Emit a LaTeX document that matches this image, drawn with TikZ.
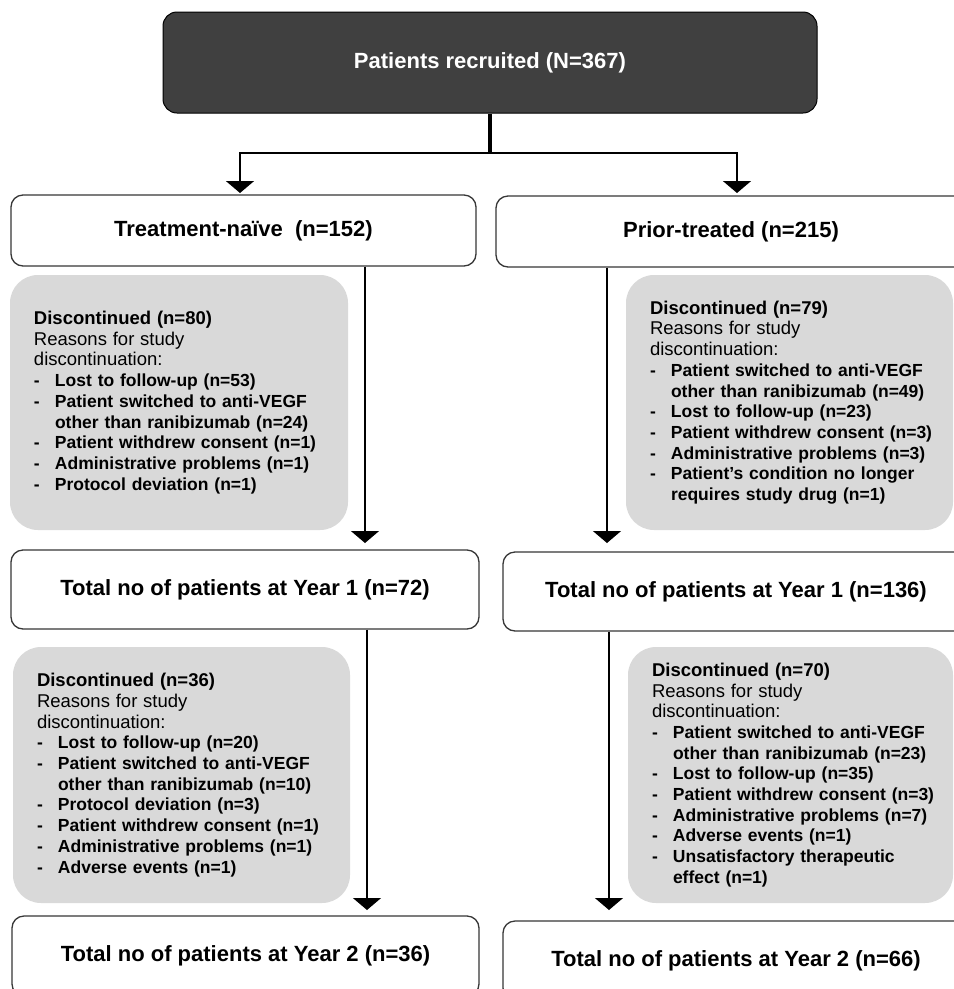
\documentclass[tikz,border=0pt]{standalone}
\usepackage{fontspec}
\setmainfont{Liberation Sans}
\usetikzlibrary{arrows.meta}
\definecolor{topgrey}{RGB}{64,64,64}
\definecolor{boxgrey}{RGB}{217,217,217}
\definecolor{edgegrey}{RGB}{55,55,55}
\newcommand\hdr[1]{\mbox{\fontsize{18.5}{20.7}\selectfont\bfseries #1}}
\newcommand\rsn[1]{\mbox{\fontsize{18.5}{20.7}\selectfont #1}}
\newcommand\itm[1]{\makebox[21pt][l]{\bfseries -}\mbox{\bfseries #1}}
\newcommand\cnt[1]{\hspace*{21pt}\mbox{\bfseries #1}}
\begin{document}
\begin{tikzpicture}[x=1pt,y=-1pt,
  topbox/.style={draw=black, line width=1pt, fill=topgrey, rounded corners=14pt, text=white,
    font=\bfseries\fontsize{22}{26}\selectfont},
  whitebox/.style={draw=edgegrey, line width=1.3pt, fill=white, rounded corners=12pt,
    font=\bfseries\fontsize{22}{26}\selectfont},
  greybox/.style={fill=boxgrey, draw=none, rounded corners=28pt, align=left, inner xsep=24pt,
    font=\fontsize{17.5}{20.7}\selectfont},
  arr/.style={draw=black, line width=1.2pt, -{Triangle[width=28pt,length=12pt]}},
]
\useasboundingbox (0,0) rectangle (954,989);
\clip (0,0) rectangle (954,989);
\fill[white] (0,0) rectangle (954,989);

% top
\node[topbox, minimum width=654pt, minimum height=101pt] (top) at (490,62.5) {Patients recruited (N=367)};

% level 1
\node[whitebox, minimum width=465pt, minimum height=71pt] (naive) at (243.5,230.5) {Treatment-naïve\ \ (n=152)};
\node[whitebox, minimum width=470pt, minimum height=71pt] (prior) at (731,231.5) {Prior-treated (n=215)};

% grey boxes level 1
\node[greybox, minimum width=338pt, minimum height=255pt, text width=290pt] (d1l) at (179,402.5) {%
\hdr{Discontinued (n=80)}\\
\rsn{Reasons for study}\\
\rsn{discontinuation:}\\
\itm{Lost to follow-up (n=53)}\\
\itm{Patient switched to anti-VEGF}\\
\cnt{other than ranibizumab (n=24)}\\
\itm{Patient withdrew consent (n=1)}\\
\itm{Administrative problems (n=1)}\\
\itm{Protocol deviation (n=1)}};

\node[greybox, minimum width=327pt, minimum height=255pt, text width=279pt] (d1r) at (789.5,402.5) {%
\hdr{Discontinued (n=79)}\\
\rsn{Reasons for study}\\
\rsn{discontinuation:}\\
\itm{Patient switched to anti-VEGF}\\
\cnt{other than ranibizumab (n=49)}\\
\itm{Lost to follow-up (n=23)}\\
\itm{Patient withdrew consent (n=3)}\\
\itm{Administrative problems (n=3)}\\
\itm{Patient’s condition no longer}\\
\cnt{requires study drug (n=1)}};

% year 1
\node[whitebox, minimum width=468pt, minimum height=79pt] (y1l) at (245,589.5) {Total no of patients at Year 1 (n=72)};
\node[whitebox, minimum width=466pt, minimum height=79pt] (y1r) at (736,591.5) {Total no of patients at Year 1 (n=136)};

% grey boxes level 2
\node[greybox, minimum width=337pt, minimum height=256pt, text width=289pt] (d2l) at (181.5,775) {%
\hdr{Discontinued (n=36)}\\
\rsn{Reasons for study}\\
\rsn{discontinuation:}\\
\itm{Lost to follow-up (n=20)}\\
\itm{Patient switched to anti-VEGF}\\
\cnt{other than ranibizumab (n=10)}\\
\itm{Protocol deviation (n=3)}\\
\itm{Patient withdrew consent (n=1)}\\
\itm{Administrative problems (n=1)}\\
\itm{Adverse events (n=1)}};

\node[greybox, minimum width=325pt, minimum height=256pt, text width=277pt] (d2r) at (790.5,775) {%
\hdr{Discontinued (n=70)}\\
\rsn{Reasons for study}\\
\rsn{discontinuation:}\\
\itm{Patient switched to anti-VEGF}\\
\cnt{other than ranibizumab (n=23)}\\
\itm{Lost to follow-up (n=35)}\\
\itm{Patient withdrew consent (n=3)}\\
\itm{Administrative problems (n=7)}\\
\itm{Adverse events (n=1)}\\
\itm{Unsatisfactory therapeutic}\\
\cnt{effect (n=1)}};

% year 2
\node[whitebox, minimum width=467pt, minimum height=80pt] (y2l) at (245.5,956) {Total no of patients at Year 2 (n=36)};
\node[whitebox, minimum width=466pt, minimum height=79pt] (y2r) at (736,960.5) {Total no of patients at Year 2 (n=66)};

% connectors
\coordinate (split) at (490,153);
\coordinate (tl) at (240,193);
\coordinate (tr) at (737,193);
\draw[line width=3.5pt] (top.south) -- (split);
\draw[arr, line width=1.6pt] (split) -| (tl);
\draw[arr, line width=1.6pt] (split) -| (tr);

\coordinate (a1l) at (365,543);
\coordinate (a1r) at (607,543);
\coordinate (a2l) at (367,910);
\coordinate (a2r) at (609,910);
\draw[arr] (naive.south -| a1l) -- (a1l);
\draw[arr] (prior.south -| a1r) -- (a1r);
\draw[arr] (y1l.south -| a2l) -- (a2l);
\draw[arr] (y1r.south -| a2r) -- (a2r);
\end{tikzpicture}
\end{document}
